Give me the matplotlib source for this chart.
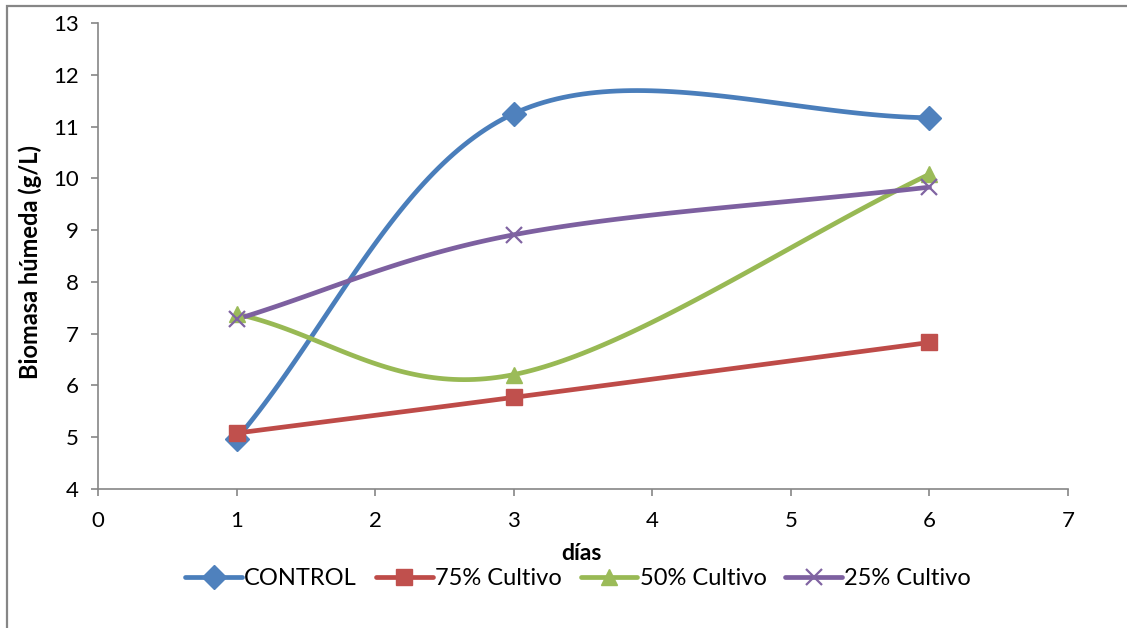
import matplotlib.pyplot as plt
import numpy as np
from matplotlib.lines import Line2D
from matplotlib.patches import Rectangle

plt.rcParams['font.family'] = ['Lato', 'DejaVu Sans']

dias = [1, 3, 6]
control = [4.97, 11.25, 11.17]
cultivo_75 = [5.08, 5.77, 6.83]
cultivo_50 = [7.38, 6.21, 10.08]
cultivo_25 = [7.28, 8.91, 9.83]

series = [
    ("CONTROL", control, "#4A7EBB", "#4F81BD", "D", 12),
    ("75% Cultivo", cultivo_75, "#BE4B48", "#C0504D", "s", 11),
    ("50% Cultivo", cultivo_50, "#98B954", "#9BBB59", "^", 12),
    ("25% Cultivo", cultivo_25, "#7D60A0", "#8064A2", "x", 11),
]


def suavizar(x, y, n=60):
    """Curva suavizada tipo Excel (Bezier cúbica con tangentes Catmull-Rom)."""
    p = np.column_stack([x, y]).astype(float)
    m = len(p)
    tang = np.zeros_like(p)
    for i in range(m):
        if i == 0:
            tang[i] = p[1] - p[0]
        elif i == m - 1:
            tang[i] = p[-1] - p[-2]
        else:
            tang[i] = (p[i + 1] - p[i - 1]) / 2
    t = np.linspace(0, 1, n)[:, None]
    trozos = []
    for i in range(m - 1):
        b0, b3 = p[i], p[i + 1]
        b1 = b0 + tang[i] / 3
        b2 = b3 - tang[i + 1] / 3
        c = ((1 - t) ** 3) * b0 + 3 * ((1 - t) ** 2) * t * b1 \
            + 3 * (1 - t) * t ** 2 * b2 + t ** 3 * b3
        trozos.append(c)
    c = np.vstack(trozos)
    return c[:, 0], c[:, 1]


fig = plt.figure(figsize=(11.27, 6.28), dpi=100)
ax = fig.add_axes([0.0870, 0.2213, 0.8607, 0.7421])

handles = []
for nombre, valores, color_linea, color_marca, marca, tam in series:
    xs, ys = suavizar(dias, valores)
    ax.plot(xs, ys, color=color_linea, lw=3.4, solid_capstyle="round", zorder=2)
    if marca == "x":
        ax.plot(dias, valores, ls="none", marker=marca, ms=tam,
                mec=color_marca, mew=1.6, zorder=3)
    else:
        ax.plot(dias, valores, ls="none", marker=marca, ms=tam,
                mfc=color_marca, mec=color_marca, zorder=3)
    handles.append(Line2D([], [], color=color_linea, lw=3.4,
                          solid_capstyle="round", marker=marca, ms=tam,
                          mfc=color_marca, mec=color_marca,
                          mew=1.6 if marca == "x" else 1.0, label=nombre))

ax.set_xlim(0, 7)
ax.set_ylim(4, 13)
ax.set_xticks(range(0, 8))
ax.set_yticks(range(4, 14))

gris = "#868686"
for lado in ["top", "right"]:
    ax.spines[lado].set_visible(False)
for lado in ["left", "bottom"]:
    ax.spines[lado].set_color(gris)
    ax.spines[lado].set_linewidth(1.2)
ax.tick_params(axis="both", direction="out", length=5, width=1.2,
               color=gris, labelsize=16, labelcolor="black")
ax.tick_params(axis="x", pad=11)
ax.tick_params(axis="y", pad=9)

fig.text(0.516, 0.119, "días", ha="center", va="center",
         fontsize=16.5, fontweight="bold")
fig.text(0.027, 0.583, "Biomasa húmeda (g/L)", ha="center", va="center",
         rotation=90, fontsize=17, fontweight="bold")

fig.legend(handles=handles, loc="center", bbox_to_anchor=(0.513, 0.079),
           ncol=4, frameon=False, fontsize=17, handlelength=2.4,
           handletextpad=0.1, columnspacing=0.8)

# marco exterior del gráfico
fig.patches.append(Rectangle((7 / 1127, -0.1), 1.2, 1 - 6 / 628 + 0.1,
                             transform=fig.transFigure, fill=False,
                             edgecolor=gris, lw=1.6))

fig.savefig("out.png", dpi=100)
